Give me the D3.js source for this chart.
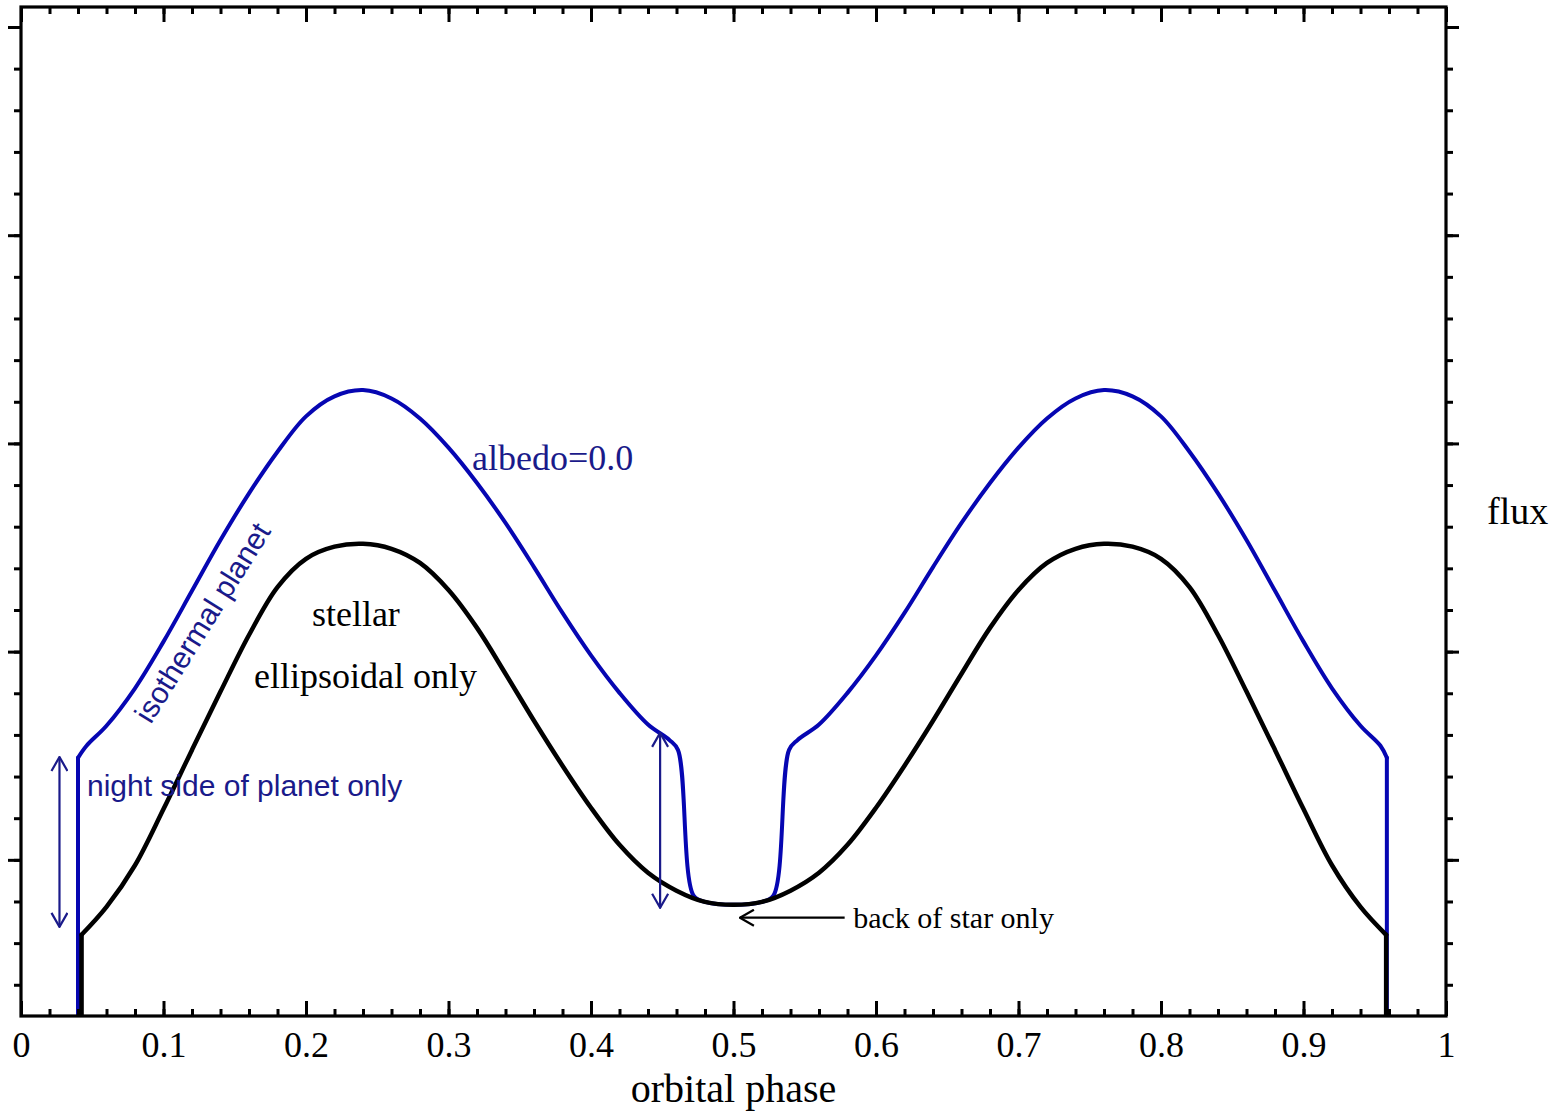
<!DOCTYPE html>
<html>
<head>
<meta charset="utf-8">
<script src="https://cdn.jsdelivr.net/npm/d3@7"></script>
<style>
  body { margin: 0; background: #fff; }
  svg { display: block; }
  .serif { font-family: "Liberation Serif", "Times New Roman", serif; }
  .sans { font-family: "Liberation Sans", Arial, sans-serif; }
</style>
</head>
<body>
<div id="chart"></div>
<script>
// x axis: orbital phase
var majorPhase = d3.range(0, 11).map(function(i) { return i / 10; });
var minorPhase = d3.range(0, 51).map(function(i) { return i / 50; });
// y axis: flux (no labels in the figure)
var majorFlux = [5, 10, 15, 20, 25];
var minorFlux = d3.range(2, 26);

// stellar ellipsoidal only (black)
var stellarPhase = [0.0425, 0.0425, 0.06, 0.08, 0.10, 0.12, 0.14, 0.16, 0.18, 0.20, 0.22, 0.24,
  0.26, 0.28, 0.30, 0.32, 0.34, 0.36, 0.38, 0.40, 0.42, 0.44, 0.46, 0.48, 0.50,
  0.52, 0.54, 0.56, 0.58, 0.60, 0.62, 0.64, 0.66, 0.68, 0.70, 0.72, 0.74, 0.76,
  0.78, 0.80, 0.82, 0.84, 0.86, 0.88, 0.90, 0.92, 0.94, 0.958, 0.958];
var stellarFlux = [0, 3.20, 3.87, 4.87, 6.22, 7.64, 9.04, 10.40, 11.55, 12.23, 12.52, 12.59,
  12.47, 12.13, 11.48, 10.57, 9.47, 8.34, 7.26, 6.25, 5.36, 4.69, 4.26, 3.99, 3.92,
  3.99, 4.26, 4.69, 5.36, 6.25, 7.26, 8.34, 9.47, 10.57, 11.48, 12.13, 12.47, 12.59,
  12.52, 12.23, 11.55, 10.40, 9.04, 7.64, 6.22, 4.87, 3.87, 3.20, 0];

// isothermal planet, albedo = 0.0 (blue)
var planetPhase = [0.040, 0.040, 0.040, 0.046, 0.06, 0.08, 0.10, 0.12, 0.14, 0.16, 0.18, 0.20,
  0.22, 0.24, 0.26, 0.28, 0.30, 0.32, 0.34, 0.36, 0.38, 0.40, 0.42, 0.44, 0.455, 0.461,
  0.472, 0.48, 0.50, 0.52, 0.528, 0.539, 0.545, 0.56, 0.58, 0.60, 0.62, 0.64, 0.66,
  0.68, 0.70, 0.72, 0.74, 0.76, 0.78, 0.80, 0.82, 0.84, 0.86, 0.88, 0.90, 0.92, 0.94,
  0.954, 0.9585, 0.9585, 0.9585];
var planetFlux = [0, 3.20, 7.45, 7.74, 8.22, 9.12, 10.24, 11.46, 12.68, 13.80, 14.80, 15.65,
  16.13, 16.28, 16.08, 15.60, 14.90, 14.05, 13.09, 12.03, 10.93, 9.91, 9.01, 8.25, 7.88, 7.64,
  4.14, 3.99, 3.92, 3.99, 4.14, 7.64, 7.88, 8.25, 9.01, 9.91, 10.93, 12.03, 13.09,
  14.05, 14.90, 15.60, 16.08, 16.28, 16.13, 15.65, 14.80, 13.80, 12.68, 11.46, 10.24, 9.12, 8.22,
  7.74, 7.45, 3.20, 0];

// annotation arrows [phase, flux]
var nightArrowL = [[0.027, 7.47], [0.027, 3.39]];
var nightArrowR = [[0.4485, 8.05], [0.4485, 3.85]];
var backArrow = [[0.578, 3.61], [0.5045, 3.61]];

var width = 1568, height = 1111;
var blue = "#0606b2", navy = "#1a1a8a";

var x = d3.scaleLinear().domain([0, 1]).range([21, 1446]);
var y = d3.scaleLinear().domain([1.25, 25.48]).range([1016, 7]);

var svg = d3.select("#chart").append("svg")
    .attr("width", width)
    .attr("height", height)
    .style("background", "#fff");

svg.append("clipPath").attr("id", "plotclip")
  .append("rect")
    .attr("x", x(0)).attr("y", y(25.48))
    .attr("width", x(1) - x(0)).attr("height", y(1.25) - y(25.48));

var defs = svg.append("defs");
function marker(id, color) {
  defs.append("marker")
      .attr("id", id)
      .attr("viewBox", "0 -9 16 18")
      .attr("refX", 15).attr("refY", 0)
      .attr("markerWidth", 16).attr("markerHeight", 18)
      .attr("markerUnits", "userSpaceOnUse")
      .attr("orient", "auto-start-reverse")
    .append("path")
      .attr("d", "M1,-8L15,0L1,8")
      .attr("fill", "none")
      .attr("stroke", color)
      .attr("stroke-width", 2.2);
}
marker("headNavy", navy);
marker("headBlack", "#000");

var smooth = d3.line()
    .x(function(d) { return x(d[0]); })
    .y(function(d) { return y(d[1]); })
    .curve(d3.curveCatmullRom.alpha(0.5));

var straight = d3.line()
    .x(function(d) { return x(d[0]); })
    .y(function(d) { return y(d[1]); });

// split a series into its vertical transit drops and the smooth body
function pieces(phase, flux) {
  var pts = phase.map(function(p, i) { return [p, flux[i]]; });
  var n = pts.length, k = 0, m = n - 1;
  while (k + 1 < n && pts[k + 1][0] === pts[0][0]) k++;
  while (m - 1 > 0 && pts[m - 1][0] === pts[n - 1][0]) m--;
  return [
    { d: pts.slice(0, k + 1), gen: straight },
    { d: pts.slice(k, m + 1), gen: smooth },
    { d: pts.slice(m), gen: straight }
  ];
}

var plot = svg.append("g").attr("clip-path", "url(#plotclip)");

function drawSeries(phase, flux, color, w) {
  pieces(phase, flux).forEach(function(p) {
    plot.append("path")
        .datum(p.d)
        .attr("d", p.gen)
        .attr("fill", "none")
        .attr("stroke", color)
        .attr("stroke-width", w)
        .attr("stroke-linecap", "round")
        .attr("stroke-linejoin", "round");
  });
}

drawSeries(planetPhase, planetFlux, blue, 4);
drawSeries(stellarPhase, stellarFlux, "#000", 4.5);

// arrows
[nightArrowL, nightArrowR].forEach(function(a) {
  svg.append("path")
      .datum(a)
      .attr("d", straight)
      .attr("stroke", navy)
      .attr("stroke-width", 2.2)
      .attr("fill", "none")
      .attr("marker-start", "url(#headNavy)")
      .attr("marker-end", "url(#headNavy)");
});

svg.append("path")
    .datum(backArrow)
    .attr("d", straight)
    .attr("stroke", "#000")
    .attr("stroke-width", 2.2)
    .attr("fill", "none")
    .attr("marker-end", "url(#headBlack)");

// labels
svg.append("text").attr("class", "serif")
    .attr("x", x(0.3165)).attr("y", y(14.36))
    .attr("font-size", 36).attr("fill", navy)
    .text("albedo=0.0");

svg.append("text").attr("class", "serif")
    .attr("x", x(0.235)).attr("y", y(10.62))
    .attr("text-anchor", "middle")
    .attr("font-size", 36).attr("fill", "#000")
    .text("stellar");

svg.append("text").attr("class", "serif")
    .attr("x", x(0.1635)).attr("y", y(9.13))
    .attr("font-size", 36).attr("fill", "#000")
    .text("ellipsoidal only");

svg.append("text").attr("class", "sans")
    .attr("x", x(0.0463)).attr("y", y(6.54))
    .attr("font-size", 30).attr("fill", navy)
    .text("night side of planet only");

svg.append("text").attr("class", "sans")
    .attr("transform", "translate(" + x(0.091) + "," + y(8.24) + ") rotate(-58)")
    .attr("font-size", 30).attr("fill", navy)
    .text("isothermal planet");

svg.append("text").attr("class", "serif")
    .attr("x", x(0.584)).attr("y", y(3.37))
    .attr("font-size", 30).attr("fill", "#000")
    .text("back of star only");

svg.append("text").attr("class", "serif")
    .attr("x", 1487).attr("y", y(13.07))
    .attr("font-size", 38).attr("fill", "#000")
    .text("flux");

svg.append("text").attr("class", "serif")
    .attr("x", x(0.5)).attr("y", 1102)
    .attr("text-anchor", "middle")
    .attr("font-size", 40).attr("fill", "#000")
    .text("orbital phase");

// axes
function styleAxis(g) {
  g.select(".domain").remove();
  g.selectAll(".tick line").attr("stroke", "#000").attr("stroke-width", 3);
}

svg.append("g").attr("transform", "translate(0," + y(1.25) + ")")
    .call(d3.axisBottom(x).tickValues(minorPhase).tickSize(-7).tickFormat(""))
    .call(styleAxis);
svg.append("g").attr("transform", "translate(0," + y(1.25) + ")")
    .call(d3.axisBottom(x).tickValues(majorPhase).tickSize(-15).tickPadding(15).tickFormat(d3.format("~g")))
    .call(styleAxis)
    .call(function(g) {
      g.attr("font-family", null).attr("font-size", null);
      g.selectAll("text")
        .style("font-family", "'Liberation Serif', 'Times New Roman', serif")
        .attr("font-size", 36).attr("fill", "#000");
    });
svg.append("g").attr("transform", "translate(0," + y(25.48) + ")")
    .call(d3.axisTop(x).tickValues(minorPhase).tickSize(-7).tickFormat(""))
    .call(styleAxis);
svg.append("g").attr("transform", "translate(0," + y(25.48) + ")")
    .call(d3.axisTop(x).tickValues(majorPhase).tickSize(-15).tickFormat(""))
    .call(styleAxis);

svg.append("g").attr("transform", "translate(" + x(0) + ",0)")
    .call(d3.axisLeft(y).tickValues(minorFlux).tickSize(7).tickFormat(""))
    .call(styleAxis);
svg.append("g").attr("transform", "translate(" + x(0) + ",0)")
    .call(d3.axisLeft(y).tickValues(majorFlux).tickSize(13).tickFormat(""))
    .call(styleAxis);
svg.append("g").attr("transform", "translate(" + x(1) + ",0)")
    .call(d3.axisRight(y).tickValues(minorFlux).tickSize(7).tickFormat(""))
    .call(styleAxis);
svg.append("g").attr("transform", "translate(" + x(1) + ",0)")
    .call(d3.axisRight(y).tickValues(majorFlux).tickSize(13).tickFormat(""))
    .call(styleAxis);

svg.append("rect")
    .attr("x", x(0)).attr("y", y(25.48))
    .attr("width", x(1) - x(0)).attr("height", y(1.25) - y(25.48))
    .attr("fill", "none")
    .attr("stroke", "#000")
    .attr("stroke-width", 3.2);
</script>
</body>
</html>
